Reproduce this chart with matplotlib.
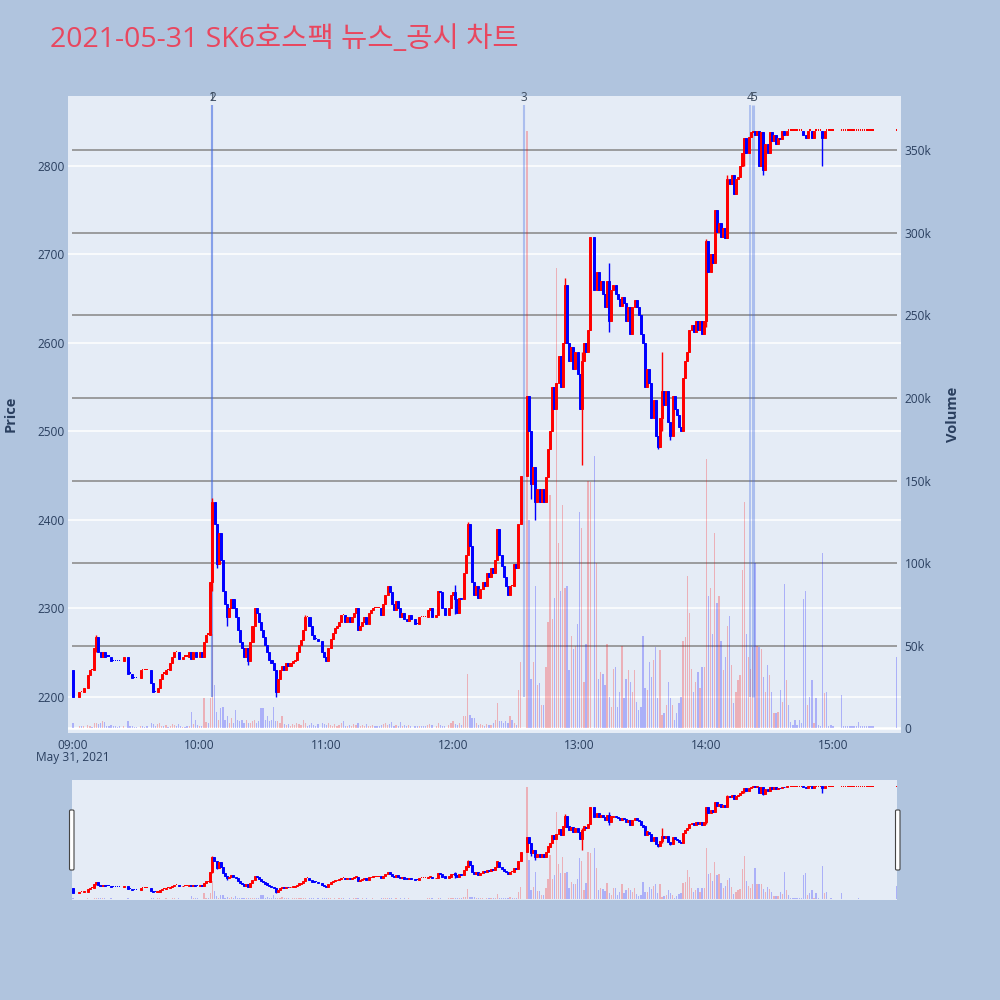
import matplotlib.pyplot as plt
from matplotlib.patches import FancyBboxPatch

plt.rcParams['font.family'] = ['Open Sans', 'Noto Sans CJK KR', 'DejaVu Sans']

N = None
title = '2021-05-31 SK6호스팩 뉴스_공시 차트'
day_label = 'May 31, 2021'

# 1-minute closes from 09:00 (index 0) to 15:30 (index 390), None = no trade
first_open = 2230
closes = [
    2200, N, N, 2205, 2205, 2210, N, 2225, 2230, 2230,
    2255, 2268, 2250, 2245, 2250, 2245, 2245, 2245, 2240, 2240,
    2240, 2240, 2240, N, 2245, N, 2226, 2226, 2221, 2221,
    2221, N, 2230, 2230, 2230, 2230, N, 2215, 2205, 2205,
    2210, 2220, 2226, 2226, 2230, 2230, 2238, 2245, 2250, 2250,
    2243, 2243, 2245, 2245, 2245, 2250, 2243, 2250, 2245, 2245,
    2250, 2245, 2262, 2270, 2270, 2330, 2420, 2395, 2350, 2385,
    2355, 2320, 2305, 2290, 2300, 2310, 2300, 2290, 2275, 2262,
    2255, 2245, 2255, 2240, 2262, 2280, 2300, 2295, 2285, 2275,
    2268, 2258, 2250, 2242, 2238, 2230, 2205, 2220, 2230, 2235,
    2230, 2238, 2235, 2238, 2240, 2242, 2250, 2258, 2264, 2275,
    2290, 2290, 2280, 2270, 2265, 2265, 2263, N, 2250, 2245,
    2240, 2255, 2265, 2272, 2278, 2280, 2285, 2292, 2292, 2285,
    2290, 2285, 2290, 2295, 2300, 2275, 2280, 2285, 2290, 2282,
    2295, 2298, 2300, 2300, 2300, 2300, 2292, 2305, 2315, 2325,
    2318, 2305, 2298, 2308, 2300, 2290, 2295, 2288, 2286, 2292,
    2288, N, 2282, 2282, 2290, 2290, 2290, 2290, 2298, 2300,
    2290, N, 2292, 2320, 2318, 2300, 2292, N, 2300, 2315,
    2318, 2310, 2295, 2312, 2310, 2340, 2360, 2395, 2370, 2330,
    2315, 2325, 2312, 2322, 2330, 2325, 2340, 2335, 2345, 2340,
    2355, 2390, 2360, 2348, 2335, 2325, 2315, 2325, 2325, 2350,
    2345, 2395, 2450, N, N, 2540, 2500, 2440, 2460, 2420,
    2435, 2420, 2435, 2420, 2448, 2480, 2500, 2550, 2525, 2555,
    2585, 2550, 2600, 2665, 2600, 2580, 2595, 2570, 2590, 2565,
    2525, 2580, 2600, 2590, 2615, 2720, N, 2660, 2680, 2660,
    2670, 2655, 2640, 2670, 2625, 2660, 2665, 2655, 2650, 2642,
    2652, 2645, 2625, 2640, 2610, 2640, 2648, 2640, 2632, 2610,
    2600, 2550, 2570, 2555, 2515, 2535, 2495, 2482, 2515, 2545,
    2530, 2545, 2510, 2495, 2540, 2525, 2518, 2505, 2500, 2560,
    2580, 2590, 2615, 2620, 2612, 2625, 2615, 2625, 2610, 2625,
    2715, 2680, 2700, 2690, 2750, 2725, 2735, 2720, 2730, 2718,
    2785, 2780, 2790, 2768, 2785, 2788, 2800, 2815, 2832, 2815,
    2833, 2838, 2840, 2835, 2840, 2800, 2838, 2795, 2825, 2815,
    2838, 2828, 2835, 2825, 2832, 2830, 2839, 2835, 2840, 2840,
    2840, 2840, 2840, 2840, 2840, 2840, 2835, 2832, 2840, 2840,
    2832, 2840, 2840, 2840, 2840, 2832, 2840, 2840, 2840, 2840,
    2840, N, N, N, 2840, 2840, 2840, 2840, 2840, 2840,
    2840, 2840, 2840, 2840, 2840, 2840, 2840, 2840, 2840, 2840,
    N, N, N, N, N, N, N, N, N, N,
    2840,
]

# volume per minute, thousands of shares
volume_k = [
    3.2, 0, 0, 1.4, 1.0, 1.5, 0, 2.0, 1.5, 0.8,
    3.0, 3.2, 2.5, 3.0, 4.0, 3.5, 1.5, 1.2, 2.0, 1.0,
    1.5, 0.8, 1.2, 0, 1.0, 0, 4.0, 1.5, 1.2, 0.8,
    0.8, 0, 1.5, 1.0, 0.8, 1.0, 0, 3.0, 2.5, 1.2,
    2.5, 3.0, 1.5, 1.0, 2.0, 0.8, 1.5, 2.5, 2.0, 1.0,
    2.5, 1.0, 0.8, 0.8, 1.0, 1.5, 9.9, 2.5, 4.9, 2.0,
    1.5, 1.5, 18, 3.9, 3.0, 18, 57, 26, 10, 5,
    12, 13, 5, 7, 3, 6, 3, 11, 5, 4,
    5, 3, 5, 3, 3, 4, 5, 3, 4, 12,
    12, 5, 7, 4, 5, 13, 4, 4, 3, 7,
    2.5, 2, 2.5, 1.5, 2.5, 2, 3, 2.5, 2, 5,
    3, 1.5, 2, 3, 2, 1.5, 2.5, 0, 3, 2.5,
    2, 3, 2, 1.5, 2.5, 1, 2, 3, 4.4, 1.5,
    1, 2, 1.5, 2.5, 2, 3, 1.5, 2, 1, 2.5,
    1.5, 1, 2, 1, 1.5, 1, 2, 2.5, 3, 2,
    2.5, 3.5, 1.5, 2, 1, 3.9, 1.5, 2, 1, 2,
    1, 0, 1.5, 1, 1, 1, 1, 1, 2, 2.5,
    2, 0, 1.5, 3, 2, 1.5, 1.5, 0, 2, 3,
    4.4, 2.5, 2, 3, 2, 7, 7, 33, 8, 6,
    6, 3, 2, 2.5, 2, 1.5, 2.5, 2, 2, 3,
    5, 15, 4, 4, 3, 4, 3, 7, 5, 3,
    2, 23, 40, 0, 0, 362, 126, 30, 40, 86,
    26, 27, 14, 14, 37, 64, 141, 66, 79, 279,
    112, 83, 135, 85, 86, 35, 56, 48, 50, 63,
    131, 121, 28, 51, 150, 149, 0, 165, 100, 30,
    34, 33, 26, 51, 19, 13, 36, 37, 13, 22,
    50, 18, 30, 35, 28, 22, 35, 16, 11, 13,
    56, 24, 23, 40, 31, 41, 49, 18, 47, 8,
    9, 14, 28, 18, 14, 5, 9, 15, 19, 53,
    55, 92, 70, 36, 22, 28, 34, 24, 37, 37,
    163, 80, 85, 57, 118, 76, 80, 53, 35, 43,
    62, 68, 38, 15, 22, 29, 32, 96, 137, 57,
    43, 36, 49, 100, 50, 49, 48, 31, 22, 38,
    32, 22, 9, 9, 10, 23, 16, 87, 29, 14,
    3.4, 2, 5, 2, 4.6, 3, 78, 83, 14, 19,
    29, 3, 18, 2, 1, 106, 21, 22, 1, 2,
    1, 0, 0, 0, 20, 1, 1, 1, 1, 1,
    1, 1, 3.6, 1, 1, 1, 1, 1, 1, 1,
    0, 0, 0, 0, 0, 0, 0, 0, 0, 0,
    43,
]

# minutes with shadows beyond the body
wick_min = [11, 66, 68, 73, 83, 96, 110, 181, 187, 217, 219, 233, 241,
            245, 254, 277, 279, 283, 300, 310, 318, 327, 355]
wick_low = [2250, 2320, 2346, 2280, 2236, 2200, 2275, 2293, 2360, 2423, 2400,
            2600, 2462, 2615, 2612, 2480, 2500, 2490, 2618, 2718, 2800, 2790, 2800]
wick_high = [2270, 2425, 2395, 2305, 2255, 2230, 2292, 2326, 2398, 2500, 2460,
             2673, 2590, 2720, 2690, 2495, 2590, 2510, 2717, 2790, 2832, 2838, 2840]

news_min = [65.8, 66.0, 213.7, 320.7, 322.2]
news_no = ['1', '2', '3', '4', '5']
news_width = [1.5, 1.5, 1.5, 1.3, 2.2]

hour_ticks = [0, 60, 120, 180, 240, 300, 360]
hour_labels = ['09:00', '10:00', '11:00', '12:00', '13:00', '14:00', '15:00']
price_ticks = [2200, 2300, 2400, 2500, 2600, 2700, 2800]
vol_ticks = [0, 50000, 100000, 150000, 200000, 250000, 300000, 350000]
vol_labels = ['0', '50k', '100k', '150k', '200k', '250k', '300k', '350k']

paper = '#B0C4DE'
plot_bg = '#E5ECF6'
txt = '#2a3f5f'
up = '#FF0000'
down = '#0000FF'

# candles: open = previous traded close
mins, opens, cls, cols, vols, vcols = [], [], [], [], [], []
prev = first_open
last_col = down
for m, c in enumerate(closes):
    if c is None:
        continue
    o = prev
    if c > o:
        col = up
    elif c < o:
        col = down
    else:
        col = last_col
    mins.append(m)
    opens.append(o)
    cls.append(c)
    cols.append(col)
    vols.append(volume_k[m] * 1000)
    vcols.append(up if c > o else down)
    prev = c
    last_col = col

col_at = dict(zip(mins, cols))
p_lo = min(min(cls), min(wick_low))
p_hi = max(max(cls), max(wick_high))

price_lim = (2159, 2879)
vol_lim = (-3000, 383000)


def draw_series(axv, axp, min_body):
    axv.bar(mins, vols, width=0.62, color=vcols, alpha=0.25, linewidth=0, zorder=2)
    axp.vlines(wick_min, wick_low, wick_high, colors=[col_at[m] for m in wick_min],
               lw=1.0, zorder=3)
    body = [i for i in range(len(mins)) if cls[i] != opens[i]]
    doji = [i for i in range(len(mins)) if cls[i] == opens[i]]
    axp.bar([mins[i] for i in body], [abs(cls[i] - opens[i]) for i in body],
            bottom=[min(cls[i], opens[i]) for i in body], width=0.95,
            color=[cols[i] for i in body], edgecolor=[cols[i] for i in body],
            linewidth=0.7, zorder=4)
    axp.bar([mins[i] for i in doji], min_body, bottom=[cls[i] for i in doji],
            width=0.7, color=[cols[i] for i in doji], linewidth=0, zorder=4)


fig = plt.figure(figsize=(10, 10), dpi=100, facecolor=paper)

# main chart
axv = fig.add_axes([0.068, 0.267, 0.833, 0.637])
axp = axv.twinx()
axv.set_facecolor(plot_bg)
axp.patch.set_visible(False)

for p in price_ticks:
    axv.plot([-3, 393], [p, p], color='white', lw=1.1, zorder=0.5,
             transform=axp.transData)
axv.hlines(vol_ticks[1:], -0.5, 390.3, color='#8e8e8e', lw=1.2, zorder=0.6)
axv.axhline(0, color='white', lw=1.8, zorder=0.7)

for m, w in zip(news_min, news_width):
    axp.vlines(m, p_lo, p_hi * 1.01, color='royalblue', alpha=0.35, lw=w, zorder=1)
for m, t in zip(news_min, news_no):
    axp.text(m, 0.998, t, transform=axp.get_xaxis_transform(), ha='center',
             va='center', fontsize=8.5, color='#3b4a5e')

draw_series(axv, axp, 1.6)

axv.set_xlim(-2.4, 392.2)
axv.set_ylim(*vol_lim)
axp.set_ylim(*price_lim)

axv.set_xticks(hour_ticks)
axv.set_xticklabels(hour_labels)
axv.set_yticks(vol_ticks)
axv.set_yticklabels(vol_labels)
axv.yaxis.tick_right()
axp.set_yticks(price_ticks)
axp.set_yticklabels([str(p) for p in price_ticks])
axp.yaxis.tick_left()

for a in (axv, axp):
    for s in a.spines.values():
        s.set_visible(False)
    a.tick_params(length=0, labelsize=8.6, labelcolor=txt, pad=2.5)
axv.tick_params(axis='x', pad=4)

axv.text(0, -0.038, day_label, transform=axv.get_xaxis_transform(),
         ha='center', va='center', fontsize=8.6, color=txt)

fig.text(0.011, 0.586, 'Price', rotation=90, ha='center', va='center',
         fontsize=10.5, fontweight='bold', color=txt)
fig.text(0.953, 0.586, 'Volume', rotation=90, ha='center', va='center',
         fontsize=10.5, fontweight='bold', color=txt)
fig.text(0.050, 0.960, title, ha='left', va='center', fontsize=20.5, color='#E8475F')

# range slider
axs = fig.add_axes([0.072, 0.100, 0.825, 0.120])
axs2 = axs.twinx()
axs.set_facecolor(plot_bg)
axs2.patch.set_visible(False)
draw_series(axs, axs2, 6)
axs.set_xlim(-0.5, 390.3)
axs.set_ylim(*vol_lim)
axs2.set_ylim(*price_lim)
for a in (axs, axs2):
    a.set_xticks([])
    a.set_yticks([])
    for s in a.spines.values():
        s.set_visible(False)

for hx in (0.0695, 0.8955):
    fig.patches.append(FancyBboxPatch((hx, 0.130), 0.0045, 0.060,
                                      boxstyle='round,pad=0,rounding_size=0.0012',
                                      fc='white', ec='#444444', lw=0.8,
                                      transform=fig.transFigure, zorder=5))

fig.savefig('out.png', dpi=100, facecolor=paper)
